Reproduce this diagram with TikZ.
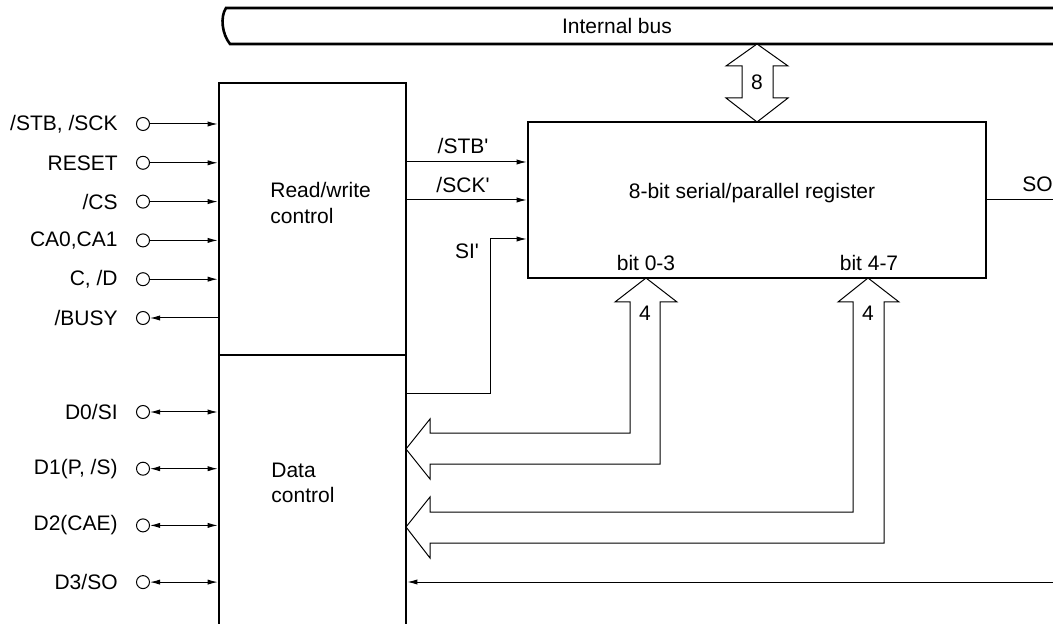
\documentclass[tikz,border=0pt]{standalone}
\usepackage{fontspec}
\setmainfont{Liberation Sans}
\usetikzlibrary{arrows.meta}

\tikzset{
  blk/.style={draw, line width=1.3pt, inner sep=0pt},
  sig/.style={line width=0.5pt},
  tip/.style={-{Latex[length=5pt,width=2.6pt]}},
  both/.style={{Latex[length=5pt,width=2.6pt]}-{Latex[length=5pt,width=2.6pt]}},
  pin/.style={circle, draw, line width=0.5pt, inner sep=0pt, minimum size=6.5pt},
  lbl/.style={font=\fontsize{10.5}{12.6}\selectfont, inner sep=0pt},
  fat/.style={draw, line width=0.5pt, fill=white}
}

\begin{document}
\begin{tikzpicture}[x=0.5pt, y=-0.5pt]
        \useasboundingbox (0,0) rectangle (1053,624);
        % Internal bus
        \draw [line width=1.3pt] (1060,8) -- (226,8) .. controls (220,17) and (222,34) .. (230,44) -- (1060,44);
        \node[lbl] (bus) at (617,26) {Internal bus};
        % Blocks
        \node[blk, minimum width=93.5pt, minimum height=136pt] (rw) at (312.5,219) {};
        \node[blk, minimum width=93.5pt, minimum height=142.5pt] (dc) at (312.5,497.5) {};
        \node[blk, minimum width=229pt, minimum height=78pt] (reg) at (757,200) {};
        \node[lbl, align=left, anchor=west] (rwt) at (270,203) {Read/write\\control};
        \node[lbl, align=left, anchor=west] (dct) at (271,483) {Data\\control};
        \node[lbl] (regt) at (752,193) {8-bit serial/parallel register};
        \node[lbl] (b03) at (646,263) {bit 0-3};
        \node[lbl] (b47) at (869,263) {bit 4-7};
        % Control pins
        \foreach \t [count=\i] in {{/STB, /SCK}, {RESET}, {/CS}, {CA0,CA1}, {C, /D}} {
          \node[pin] (in\i) at (143,{124+38.8*(\i-1)}) {};
          \node[lbl, anchor=east] (inl\i) at (118,{124+38.8*(\i-1)}) {\t};
          \draw[sig,tip] (in\i) -- (in\i -| rw.west);
        }
        \node[pin] (busy) at (143,318) {};
        \node[lbl, anchor=east] (busyl) at (118,318) {/BUSY};
        \draw[sig,tip] (busy -| rw.west) -- (busy);
        % Data pins
        \foreach \t [count=\i] in {{D0/SI}, {D1(P, /S)}, {D2(CAE)}, {D3/SO}} {
          \node[pin] (d\i) at (143,{412+56.7*(\i-1)}) {};
          \node[lbl, anchor=east] (dl\i) at (118,{412+56.7*(\i-1)}) {\t};
          \draw[sig,both] (d\i) -- (d\i -| dc.west);
        }
        % Register inputs
        \coordinate (stb) at (406,162);
        \coordinate (sck) at (406,200);
        \coordinate (si) at (406,394);
        \coordinate (sibend) at (490,239);
        \draw[sig,tip] (stb) -- (stb -| reg.west);
        \draw[sig,tip] (sck) -- (sck -| reg.west);
        \draw[sig,tip] (si) -| (sibend) -- (sibend -| reg.west);
        \node[lbl] (stbl) at (463,146) {/STB\textquotesingle};
        \node[lbl] (sckl) at (463,185) {/SCK\textquotesingle};
        \node[lbl] (sil) at (467,251) {SI\textquotesingle};
        % Serial out
        \coordinate (soend) at (1060,200);
        \draw[sig] (reg.east) -- (soend);
        \node[lbl, anchor=west] (sol) at (1022,184) {SO};
        \coordinate (soin) at (1060,582);
        \draw[sig,tip] (soin) -- (soin -| dc.east);
        % Bus arrows
        \draw[fat] (757,44) -- (788,66) -- (773,66) -- (773,98) -- (788,98) -- (757,122) -- (726,98) -- (742,98) -- (742,66) -- (726,66) -- cycle;
        \node[lbl] (w8) at (757,82) {8};
        \draw[fat] (646,278) -- (677,302) -- (660,302) -- (660,464) -- (430,464) -- (430,479) -- (406,449) -- (430,419) -- (430,433) -- (630,433) -- (630,302) -- (615,302) -- cycle;
        \node[lbl] (w4a) at (645,313) {4};
        \draw[fat] (868,278) -- (899,302) -- (884,302) -- (884,543) -- (430,543) -- (430,558) -- (406,527) -- (430,497) -- (430,512) -- (853,512) -- (853,302) -- (838,302) -- cycle;
        \node[lbl] (w4b) at (868,313) {4};
\end{tikzpicture}
\end{document}
